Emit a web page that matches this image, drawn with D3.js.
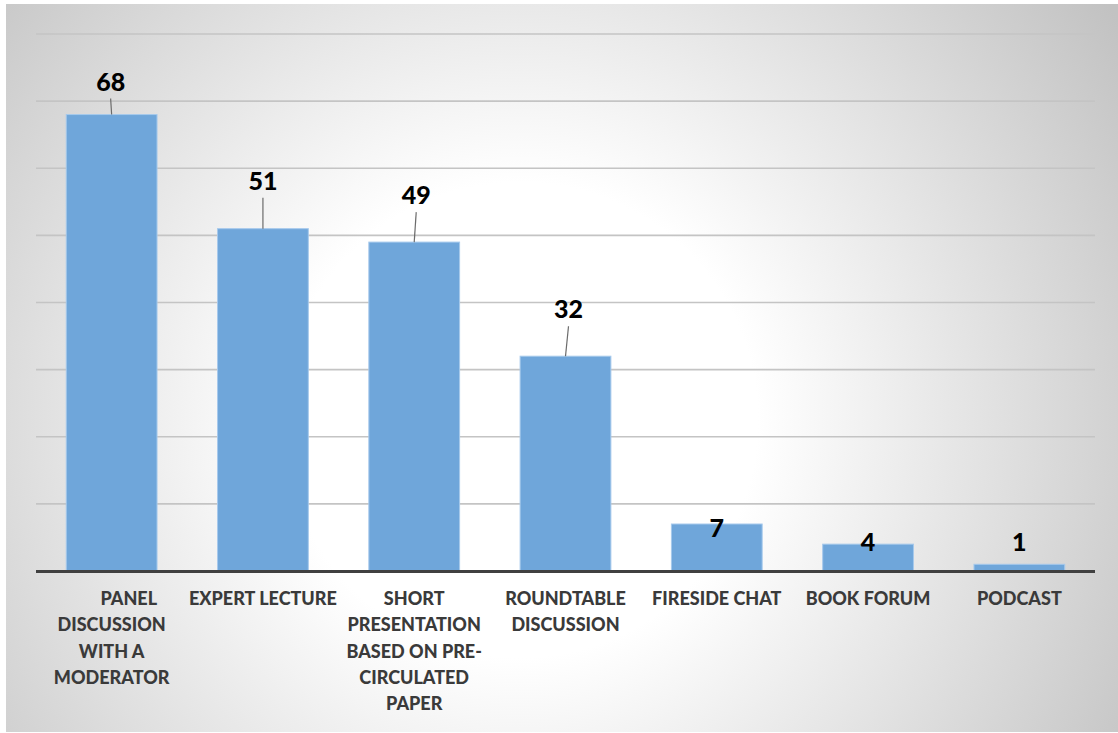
<!DOCTYPE html>
<html>
<head>
<meta charset="utf-8">
<script src="https://cdn.jsdelivr.net/npm/d3@7"></script>
<style>
  html, body { margin: 0; padding: 0; background: #fff; }
  svg { display: block; }
</style>
</head>
<body>
<div id="chart"></div>
<script>
// chart data
var categories = ["PANEL DISCUSSION WITH A MODERATOR", "EXPERT LECTURE", "SHORT PRESENTATION BASED ON PRE-CIRCULATED PAPER",
  "ROUNDTABLE DISCUSSION", "FIRESIDE CHAT", "BOOK FORUM", "PODCAST"];
var labelLines = [
  ["        PANEL", "DISCUSSION", "WITH A", "MODERATOR"],
  ["EXPERT LECTURE"],
  ["SHORT", "PRESENTATION", "BASED ON PRE-", "CIRCULATED", "PAPER"],
  ["ROUNDTABLE", "DISCUSSION"],
  ["FIRESIDE CHAT"],
  ["BOOK FORUM"],
  ["PODCAST"]
];
var counts = [68, 51, 49, 32, 7, 4, 1];
var gridTicks = [0, 10, 20, 30, 40, 50, 60, 70, 80];

var width = 1118, height = 733;
var margin = {top: 34, right: 23, bottom: 162, left: 36};

// how far each data label sits above its bar top (Excel placed them by hand)
var labelLift = [24, 39, 38, 38, -13, -7, 13];
var labelShift = [-1, 0, 2, 3, 0, 0, 0];

var svg = d3.select("#chart").append("svg")
  .attr("width", width)
  .attr("height", height);

var defs = svg.append("defs");
var grad = defs.append("radialGradient")
  .attr("id", "bg")
  .attr("gradientUnits", "userSpaceOnUse")
  .attr("cx", 520).attr("cy", 420).attr("r", 720);
grad.append("stop").attr("offset", "0.33").attr("stop-color", "#ffffff");
grad.append("stop").attr("offset", "1").attr("stop-color", "#c2c2c2");

svg.append("rect")
  .attr("x", 6).attr("y", 4)
  .attr("width", width - 6).attr("height", height - 5)
  .attr("fill", "url(#bg)");

var x = d3.scaleBand()
  .domain(categories)
  .range([margin.left, width - margin.right])
  .paddingInner(0.4)
  .paddingOuter(0.2);

var y = d3.scaleLinear()
  .domain([0, 80])
  .range([height - margin.bottom, margin.top]);

// gridlines
svg.append("g")
  .selectAll("line")
  .data(gridTicks.slice(1))
  .join("line")
    .attr("x1", margin.left)
    .attr("x2", width - margin.right)
    .attr("y1", d => y(d))
    .attr("y2", d => y(d))
    .attr("stroke", "#c4c4c4")
    .attr("stroke-width", 1.6);

// bars
svg.append("g")
  .selectAll("rect")
  .data(counts)
  .join("rect")
    .attr("x", (d, i) => x(categories[i]))
    .attr("y", d => y(d))
    .attr("width", x.bandwidth())
    .attr("height", d => y(0) - y(d))
    .attr("fill", "#6fa6da")
    .attr("stroke", "#a6c9ec")
    .attr("stroke-width", 1);

// baseline
svg.append("line")
  .attr("x1", margin.left)
  .attr("x2", width - margin.right)
  .attr("y1", y(0) + 0.5)
  .attr("y2", y(0) + 0.5)
  .attr("stroke", "#404040")
  .attr("stroke-width", 3);

// data labels + leader lines
var labels = svg.append("g");
counts.forEach((d, i) => {
  var cx = x(categories[i]) + x.bandwidth() / 2;
  var base = y(d) - labelLift[i];
  if (labelLift[i] > 20) {
    labels.append("line")
      .attr("x1", cx)
      .attr("y1", y(d))
      .attr("x2", cx + labelShift[i])
      .attr("y2", base + 8)
      .attr("stroke", "#6b6b6b")
      .attr("stroke-width", 1.2);
  }
  labels.append("text")
    .attr("x", cx + labelShift[i])
    .attr("y", base)
    .attr("text-anchor", "middle")
    .style("font-family", "Lato, 'Open Sans', sans-serif")
    .style("font-weight", "900")
    .style("font-size", "25px")
    .attr("fill", "#000")
    .text(d);
});

// category labels
var cats = svg.append("g");
labelLines.forEach((lines, i) => {
  var cx = x(categories[i]) + x.bandwidth() / 2;
  var t = cats.append("text")
    .attr("text-anchor", "middle")
    .attr("fill", "#3a3a3a")
    .style("font-family", "Lato, 'Open Sans', sans-serif")
    .style("font-weight", "900")
    .style("font-size", "18px")
    .style("white-space", "pre");
  lines.forEach((ln, k) => {
    t.append("tspan")
      .attr("x", cx)
      .attr("y", 605 + k * 26.3)
      .text(ln);
  });
});
</script>
</body>
</html>
